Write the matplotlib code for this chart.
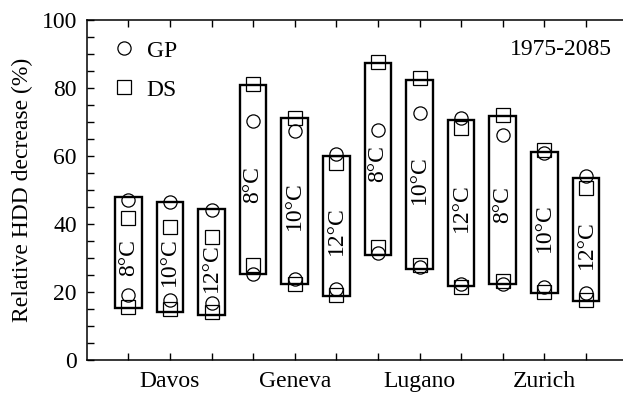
import numpy as np
import matplotlib.pyplot as plt
from matplotlib.lines import Line2D

plt.rcParams['font.family'] = ['Liberation Serif', 'DejaVu Serif']

# Stations and balance temperatures, one box per (station, temperature)
stations = ['Davos', 'Geneva', 'Lugano', 'Zurich']
temps = ['8°C', '10°C', '12°C']

# Relative HDD decrease (%), upper and lower estimate per box
gp_high = [47.2, 46.6, 44.2, 70.4, 67.4, 60.6, 67.6, 72.6, 71.1, 66.2, 61.0, 54.1]
gp_low = [19.0, 17.6, 16.8, 25.3, 23.7, 20.8, 31.4, 27.4, 22.5, 22.5, 21.6, 19.6]
ds_high = [41.7, 39.0, 36.3, 81.1, 71.3, 58.0, 87.7, 82.8, 68.1, 72.1, 61.8, 50.5]
ds_low = [15.7, 15.0, 14.0, 27.9, 22.5, 19.1, 33.1, 27.9, 21.6, 23.2, 20.1, 17.6]
# overall range drawn as the box
box_high = [48.0, 46.4, 44.3, 81.0, 71.3, 60.1, 87.4, 82.4, 70.6, 71.9, 61.3, 53.6]
box_low = [15.4, 14.2, 13.2, 25.3, 22.4, 18.9, 30.9, 26.7, 21.8, 22.4, 19.6, 17.4]
period = '1975-2085'

n = len(gp_high)
x = np.arange(1, n + 1)
top = np.array(box_high)
bot = np.array(box_low)

fs = 17
fig = plt.figure(figsize=(6.23, 3.96), dpi=100)
ax = fig.add_axes([86.7 / 623, 36 / 396, 1 - 86.7 / 623, 340 / 396])

ax.bar(x, top - bot, bottom=bot, width=0.64, fill=False, edgecolor='black',
       linewidth=1.7, zorder=2)

mk = dict(linestyle='none', mfc='none', mec='black', mew=0.9, markersize=9.5, zorder=3)
ax.plot(x, gp_high, marker='o', **mk)
ax.plot(x, gp_low, marker='o', **mk)
ax.plot(x, ds_high, marker='s', **mk)
ax.plot(x, ds_low, marker='s', **mk)

for i in range(n):
    ax.text(x[i], (top[i] + bot[i]) / 2 - 1.5, temps[i % 3], rotation=90,
            ha='center', va='center', fontsize=fs, zorder=4)

ax.text(12.62, 91.4, period, ha='right', va='center', fontsize=fs)

handles = [Line2D([], [], marker='o', **mk), Line2D([], [], marker='s', **mk)]
ax.legend(handles, ['GP', 'DS'], loc='upper left', frameon=False, fontsize=fs,
          handlelength=1.0, handletextpad=0.46, labelspacing=0.74,
          borderpad=0, borderaxespad=0, bbox_to_anchor=(0.0475, 0.941))

ax.set_xlim(0, 12.89)
ax.set_ylim(0, 100)
ax.set_xticks(x)
ax.set_xticklabels(['' if i % 3 != 1 else stations[i // 3] for i in range(n)], fontsize=fs)
ax.set_yticks(np.arange(0, 101, 20))
ax.set_yticks(np.arange(0, 101, 5), minor=True)
ax.tick_params(axis='y', labelsize=fs, pad=7)
ax.tick_params(which='both', direction='in', length=5, width=1, top=True, right=False)
ax.tick_params(axis='x', pad=8)
ax.set_ylabel('Relative HDD decrease (%)', fontsize=fs, labelpad=6)
ax.spines['right'].set_visible(False)
for s in ['left', 'top', 'bottom']:
    ax.spines[s].set_linewidth(1.1)

fig.savefig('out.png', dpi=100)
